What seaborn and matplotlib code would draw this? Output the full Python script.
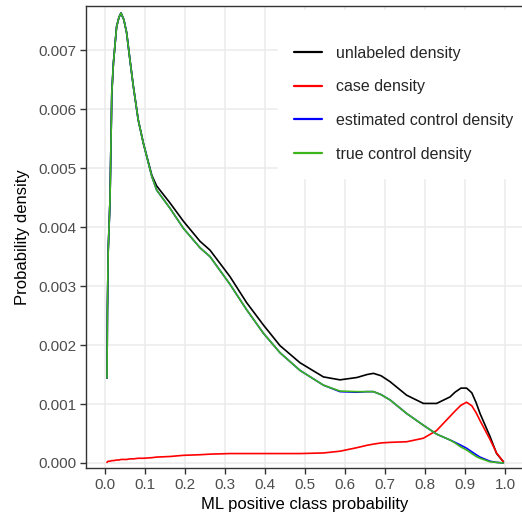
import numpy as np
import pandas as pd
import matplotlib
matplotlib.use("Agg")
import matplotlib.pyplot as plt
import seaborn as sbn

# ML positive class probability grid
x_prob = [0.005, 0.006, 0.008, 0.0125, 0.017, 0.021, 0.029, 0.035, 0.040, 0.047,
          0.054, 0.0625, 0.071, 0.083, 0.096, 0.117, 0.129, 0.1625, 0.196, 0.2375,
          0.2625, 0.3125, 0.354, 0.396, 0.4375, 0.4875, 0.546, 0.5875, 0.63, 0.655,
          0.671, 0.69, 0.7125, 0.754, 0.796, 0.829, 0.8625, 0.875, 0.89, 0.904,
          0.917, 0.928, 0.9375, 0.9625, 0.979, 0.996]

unlabeled = [0.00144, 0.00255, 0.0036, 0.00446, 0.00627, 0.00678, 0.0074, 0.00756, 0.00763, 0.00752,
             0.0073, 0.00683, 0.00638, 0.00582, 0.00542, 0.00488, 0.0047, 0.00441, 0.0041, 0.00376,
             0.00361, 0.00316, 0.00272, 0.00234, 0.00199, 0.0017, 0.00146, 0.00141, 0.00145, 0.0015,
             0.00152, 0.00148, 0.00138, 0.00115, 0.00101, 0.00101, 0.00112, 0.0012, 0.00127, 0.00127,
             0.00119, 0.00102, 0.00084, 0.00045, 0.00016, 0.00002]

case = [0.00001, 0.00002, 0.00003, 0.00003, 0.00004, 0.00004, 0.00005, 0.00005, 0.00006, 0.00006,
        0.00006, 0.00007, 0.00007, 0.00008, 0.00008, 0.00009, 0.0001, 0.00011, 0.00013, 0.00014,
        0.00015, 0.00016, 0.00016, 0.00016, 0.00016, 0.00016, 0.00017, 0.0002, 0.00026, 0.0003,
        0.00032, 0.00034, 0.00035, 0.00036, 0.00042, 0.00055, 0.00079, 0.00088, 0.00098, 0.00103,
        0.00097, 0.00085, 0.00072, 0.0004, 0.00017, 0.00002]

est_control = [0.00144, 0.00255, 0.0036, 0.00446, 0.00627, 0.00678, 0.0074, 0.00756, 0.00763, 0.00752,
               0.0073, 0.00683, 0.00638, 0.00582, 0.00542, 0.00486, 0.00463, 0.00432, 0.00398, 0.00365,
               0.0035, 0.00303, 0.0026, 0.0022, 0.00187, 0.00157, 0.00132, 0.00121, 0.0012, 0.00121,
               0.00121, 0.00116, 0.00107, 0.00084, 0.00064, 0.00049, 0.00039, 0.00035, 0.0003, 0.00025,
               0.00019, 0.00014, 0.0001, 0.00003, 0.00001, 0.0]

true_control = [0.00144, 0.00255, 0.0036, 0.00446, 0.00627, 0.00678, 0.0074, 0.00756, 0.00763, 0.00752,
                0.0073, 0.00683, 0.00638, 0.00582, 0.00542, 0.00486, 0.00463, 0.00432, 0.00398, 0.00365,
                0.0035, 0.00303, 0.0026, 0.0022, 0.00187, 0.00157, 0.00132, 0.00122, 0.00121, 0.00121,
                0.00121, 0.00116, 0.00107, 0.00084, 0.00064, 0.00049, 0.00039, 0.00034, 0.00027, 0.00022,
                0.00016, 0.00011, 0.00008, 0.00002, 0.00001, 0.0]

labels = ["unlabeled density", "case density", "estimated control density", "true control density"]
colors = ["black", "#FF0000", "#0000FF", "#3DB31C"]

df = pd.concat([
    pd.DataFrame({"x": x_prob, "density": vals, "series": lab})
    for lab, vals in zip(labels, [unlabeled, case, est_control, true_control])
], ignore_index=True)

sbn.set_theme(style="whitegrid")
plt.rcParams["font.family"] = ["Liberation Sans", "DejaVu Sans"]

fig = plt.figure(figsize=(5.22, 5.18), dpi=100)
ax = fig.add_axes([86/522, 50/518, 437/522, 462/518])

sbn.lineplot(data=df, x="x", y="density", hue="series", hue_order=labels,
             palette=colors, estimator=None, sort=False, linewidth=1.2, ax=ax)

ax.set_xlim(-0.0475, 1.045)
ax.set_ylim(-0.000085, 0.00775)
ax.set_xticks(np.round(np.arange(0, 1.01, 0.1), 1))
ax.set_xticklabels([f"{v:.1f}" for v in np.arange(0, 1.01, 0.1)])
ax.set_yticks(np.arange(0, 0.0071, 0.001))
ax.set_yticklabels([f"{v:.3f}" for v in np.arange(0, 0.0071, 0.001)])

ax.set_facecolor("white")
ax.grid(True, color="#EBEBEB", linewidth=1.1)
for side in ["left", "bottom", "top"]:
    ax.spines[side].set_visible(True)
    ax.spines[side].set_color("#333333")
    ax.spines[side].set_linewidth(1.0)
ax.spines["right"].set_visible(False)
ax.tick_params(direction="out", length=4.5, width=1.0, color="#333333",
               labelcolor="#4D4D4D", labelsize=11, pad=2.5, bottom=True, left=True)

ax.set_xlabel("ML positive class probability", fontsize=12, color="black", labelpad=4)
ax.set_ylabel("Probability density", fontsize=12, color="black", labelpad=6)

leg = ax.legend(loc="upper left", bbox_to_anchor=(278/522, 1 - 10/518),
                bbox_transform=fig.transFigure, borderaxespad=0, fontsize=11.5,
                title=" ", title_fontsize=1, handlelength=1.75, handletextpad=0.85,
                labelspacing=1.17, borderpad=1.0, frameon=True, fancybox=False)
leg.get_frame().set_facecolor("white")
leg.get_frame().set_edgecolor("white")
leg.get_frame().set_alpha(1)
for line in leg.get_lines():
    line.set_linewidth(1.6)

plt.savefig("out.png", dpi=100)
